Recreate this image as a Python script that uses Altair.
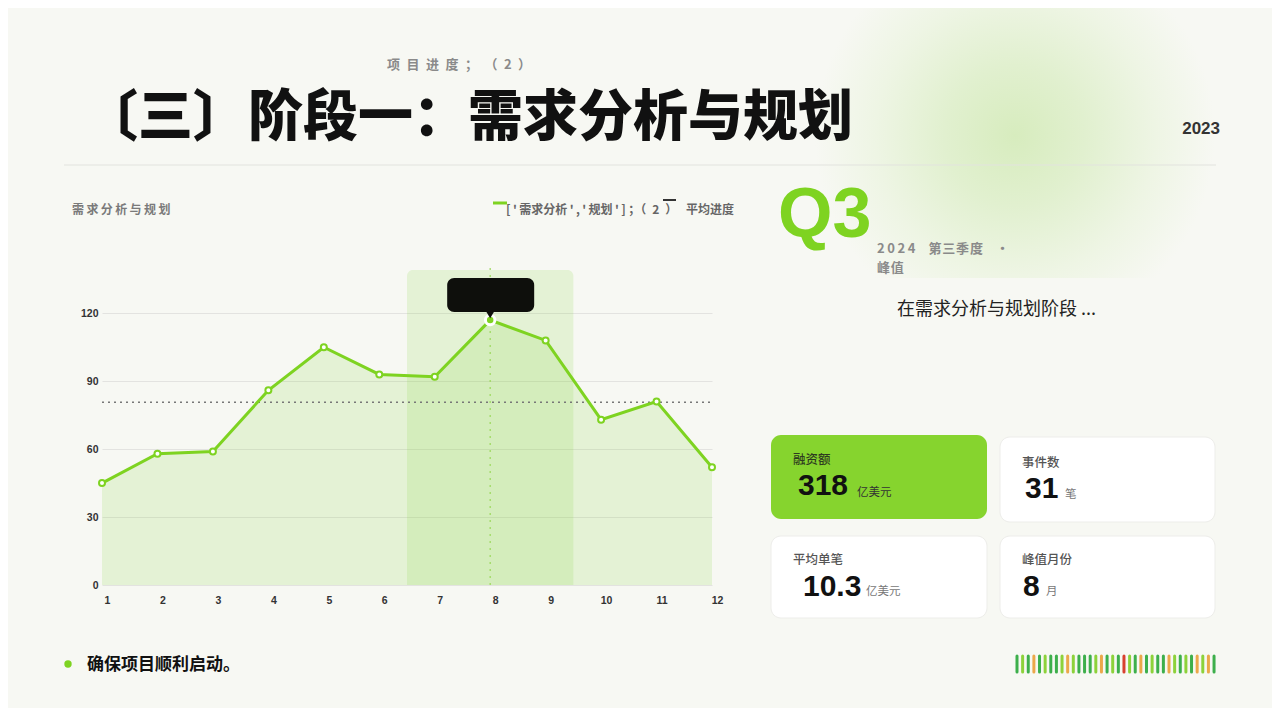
import altair as alt
import pandas as pd

# ---------------- data ----------------
months = list(range(1, 13))
values = [45, 58, 59, 86, 105, 93, 92, 117, 108, 73, 81, 52]
y_ticks = [0, 30, 60, 90, 120]
highlight_months = [7, 9]

kpi_labels = ["融资额", "事件数", "平均单笔", "峰值月份"]
kpi_values = ["318", "31", "10.3", "8"]
kpi_units = ["亿美元", "笔", "亿美元", "月"]

# barcode strip (d = dark green, l = light green, o = orange, r = red)
barcode = list("dldodlddloldddlodldrldodlddoldldolodl")[:36]

title_text = "〔三〕阶段一：需求分析与规划"
kicker_text = "项目进度；（2）"
year_text = "2023"
chart_title = "需求分析与规划"
legend_series = "[\u2009'\u2009需求分析\u2009'\u2009,\u2009'\u2009规划\u2009'\u2009]\u2009；（\u20022\u2002）"
legend_avg = "平均进度"
quarter = "Q3"
quarter_sub2 = "峰值"
summary = "在需求分析与规划阶段 ..."
bullet = "确保项目顺利启动。"

# ---------------- style ----------------
W, H = 610, 317
BG = "#F7F8F3"
GREEN = "#7ED321"
CJK = "Noto Sans CJK SC"
LAT = "Liberation Sans"
palette = {"d": "#3DAF4B", "l": "#8DD23A", "o": "#EBA84A", "r": "#D8412F"}

peak_month = months[values.index(max(values))]
avg = sum(values) / len(values)

df = pd.DataFrame({"month": months, "value": values})
anchor = pd.DataFrame({"k": [0]})
base = alt.Chart(df)

xenc = alt.X(
    "month:Q",
    scale=alt.Scale(domain=[1, 12], nice=False, zero=False),
    axis=alt.Axis(values=months, title=None, grid=False, domain=False, ticks=False,
                  labelAngle=0, labelPadding=10, labelOffset=5, labelFont=LAT,
                  labelFontSize=10.5, labelFontWeight="bold", labelColor="#333",
                  labelFlush=False, format="d"),
)
yenc = alt.Y(
    "value:Q",
    scale=alt.Scale(domain=[0, 140], nice=False),
    axis=alt.Axis(values=y_ticks, title=None, grid=True, gridColor="#E3E3E0", gridWidth=1,
                  domain=False, ticks=False, labelPadding=4, labelFont=LAT,
                  labelFontSize=10.5, labelFontWeight="bold", labelColor="#333"),
)


def spaced(s, sep):
    return sep.join(list(s))


def txt(text, x, y, size, color, weight="normal", align="left", baseline="middle", font=CJK):
    return alt.Chart(anchor).mark_text(
        text=text, fontSize=size, color=color, fontWeight=weight, align=align,
        baseline=baseline, font=font,
    ).encode(x=alt.value(x), y=alt.value(y))


def box(x1, x2, y1, y2, fill, radius=0, stroke=None):
    kw = dict(fill=fill, cornerRadius=radius, opacity=1)
    if stroke:
        kw.update(stroke=stroke, strokeWidth=1)
    return alt.Chart(anchor).mark_rect(**kw).encode(
        x=alt.value(x1), x2=alt.value(x2), y=alt.value(y1), y2=alt.value(y2))


def hline(x1, x2, y, color, width=1, dash=None):
    kw = dict(color=color, strokeWidth=width)
    if dash:
        kw["strokeDash"] = dash
    return alt.Chart(anchor).mark_rule(**kw).encode(
        x=alt.value(x1), x2=alt.value(x2), y=alt.value(y))


layers = []

# soft green glow
glow = alt.RadialGradient(
    gradient="radial",
    stops=[
        alt.GradientStop(offset=0, color="#D7ECBE"),
        alt.GradientStop(offset=0.35, color="#E1F0CF"),
        alt.GradientStop(offset=0.7, color="#EEF5E4"),
        alt.GradientStop(offset=1, color=BG),
    ],
)
layers.append(alt.Chart(anchor).mark_rect(fill=glow, opacity=1).encode(
    x=alt.value(713), x2=alt.value(1113), y=alt.value(-275), y2=alt.value(10)))

# header
layers.append(txt(spaced(kicker_text, "\u2002"), 357, -203, 13, "#8A8A8A", "bold", "center"))
layers.append(txt(title_text, -19, -150, 55, "#111111", 900))
layers.append(txt(year_text, 1118, -139, 17, "#333333", "bold", "right", font=LAT))
layers.append(hline(-38, 1114, -103, "#E2E3DE", 1))

# chart header + legend
layers.append(txt(spaced(chart_title, "\u2009"), -30, -58, 12, "#7A7A7A", "bold"))
layers.append(hline(391, 405, -65, GREEN, 3))
layers.append(txt(legend_series, 404, -58, 12, "#666666", "bold"))
layers.append(hline(561, 574, -68, "#333333", 2))
layers.append(txt(legend_avg, 584, -58, 12, "#666666", "bold"))

# highlight band
layers.append(alt.Chart(anchor).mark_rect(
    color="#8BD440", opacity=0.17, cornerRadiusTopLeft=6, cornerRadiusTopRight=6
).encode(x=alt.datum(highlight_months[0] - 0.5), x2=alt.datum(highlight_months[1] + 0.5),
         y=alt.value(2), y2=alt.value(H)))

# area + line
layers.append(base.mark_area(color="#8BD440", opacity=0.17).encode(x=xenc, y=yenc))
layers.append(alt.Chart(anchor).mark_rule(color="#777777", strokeWidth=1.5, strokeDash=[2, 4]).encode(
    y=alt.datum(avg), x=alt.value(0), x2=alt.value(W)))
layers.append(alt.Chart(anchor).mark_rule(color="#9BD85A", strokeWidth=1.2, strokeDash=[2, 5]).encode(
    x=alt.datum(peak_month), y=alt.value(0), y2=alt.value(H)))
layers.append(base.mark_line(color=GREEN, strokeWidth=3).encode(x=xenc, y=yenc))
layers.append(base.transform_filter(alt.datum.month != peak_month).mark_circle(
    fill="#FFFFFF", stroke=GREEN, strokeWidth=2, size=36, opacity=1).encode(x=xenc, y=yenc))
layers.append(base.transform_filter(alt.datum.month == peak_month).mark_circle(
    fill=GREEN, stroke="#FFFFFF", strokeWidth=3, size=90, opacity=1).encode(x=xenc, y=yenc))

# tooltip bubble
layers.append(alt.Chart(anchor).mark_rect(
    color="#0E0F0C", cornerRadius=7, opacity=1, xOffset=-43, x2Offset=44
).encode(x=alt.datum(peak_month), x2=alt.datum(peak_month), y=alt.value(10), y2=alt.value(44)))
layers.append(alt.Chart(anchor).mark_point(
    shape="triangle-down", filled=True, color="#0E0F0C", size=60, opacity=1
).encode(x=alt.datum(peak_month), y=alt.value(47)))

# Q3 block
layers.append(txt(quarter, 676, -31, 70, GREEN, "bold", baseline="alphabetic", font=LAT))
layers.append(txt("2\u20090\u20092\u20094\u2003" + spaced("第三季度", "\u200a") + "\u2003·",
                  775, -19, 13, "#8A8A8A", "bold"))
layers.append(txt(spaced(quarter_sub2, "\u200a"), 775, 0, 13, "#8A8A8A", "bold"))
layers.append(txt(summary, 795, 42, 18, "#222222"))

# KPI cards
cards = [
    dict(x1=669, x2=885, y1=167, y2=251, fill="#86D42E", stroke=None, lab="#2E3B20", unit="#333333",
         lx=691, ly=192, vx=696, vy=227, ux=755, uy=225),
    dict(x1=898, x2=1113, y1=169, y2=254, fill="#FFFFFF", stroke="#EDEDEA", lab="#555555", unit="#777777",
         lx=920, ly=195, vx=923, vy=230, ux=963, uy=227),
    dict(x1=669, x2=885, y1=268, y2=350, fill="#FFFFFF", stroke="#EDEDEA", lab="#555555", unit="#777777",
         lx=691, ly=292, vx=701, vy=328, ux=764, uy=324),
    dict(x1=898, x2=1113, y1=268, y2=350, fill="#FFFFFF", stroke="#EDEDEA", lab="#555555", unit="#777777",
         lx=920, ly=292, vx=921, vy=328, ux=944, uy=324),
]
for c, lab, val, unit in zip(cards, kpi_labels, kpi_values, kpi_units):
    layers.append(box(c["x1"], c["x2"], c["y1"], c["y2"], c["fill"], 10, c["stroke"]))
    layers.append(txt(lab, c["lx"], c["ly"], 12.5, c["lab"], 500))
    layers.append(txt(val, c["vx"], c["vy"], 30, "#111111", "bold", baseline="alphabetic", font=LAT))
    layers.append(txt(unit, c["ux"], c["uy"], 11.5, c["unit"]))

# bullet
layers.append(alt.Chart(anchor).mark_circle(color=GREEN, size=55, opacity=1).encode(
    x=alt.value(-34), y=alt.value(396)))
layers.append(txt(bullet, -15, 397, 17, "#111111", "bold"))

# barcode strip
bar_df = pd.DataFrame({"i": list(range(len(barcode))), "c": [palette[k] for k in barcode]})
layers.append(alt.Chart(bar_df).transform_calculate(px="915 + datum.i * 5.63").mark_rule(
    strokeWidth=3, strokeCap="round").encode(
    x=alt.X("px:Q", scale=None, axis=None), y=alt.value(388), y2=alt.value(404),
    color=alt.Color("c:N", scale=None, legend=None)))

chart = alt.layer(*layers).properties(
    width=W, height=H,
    padding={"left": 94, "top": 260, "right": 560, "bottom": 123},
    autosize=alt.AutoSizeParams(type="none"),
).configure(background=BG).configure_view(strokeWidth=0)

chart.save("out.html", embed_options={"renderer": "svg", "actions": False})
